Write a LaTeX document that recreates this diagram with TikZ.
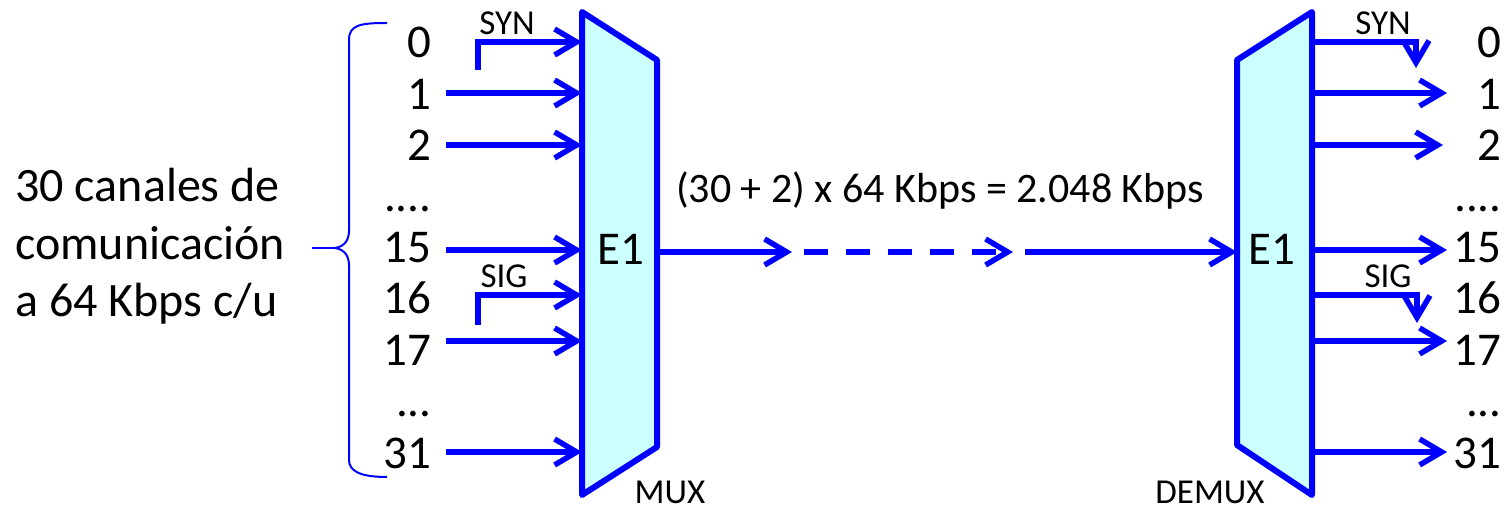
\documentclass[tikz,border=0pt]{standalone}
\usepackage{fontspec}
\setmainfont{Carlito}
\usetikzlibrary{arrows.meta}

\definecolor{muxblue}{RGB}{0,0,255}
\definecolor{muxfill}{RGB}{204,255,255}
\newcommand{\fourdots}{....}
\newcommand{\threedots}{...}

\begin{document}
\begin{tikzpicture}[x=0.5pt, y=-0.5pt,
        chan/.style={draw=muxblue, line width=2.75pt, -{Straight Barb[length=11pt, width=13pt]}},
        blk/.style={draw=muxblue, fill=muxfill, line width=3pt, line join=round},
        brace/.style={draw=muxblue, line width=1pt},
        lbl/.style={inner sep=0pt, font=\fontsize{23.5}{28.75}\selectfont},
        tag/.style={inner sep=0pt, font=\fontsize{17.5}{21}\selectfont}
    ]
        \useasboundingbox (0,0) rectangle (1508,512);

        \draw[blk] (582,12) coordinate (mux-tl) -- (657,60) -- (657,447) -- (582,495) -- cycle;
        \draw[blk] (1312,12) coordinate (dmx-tr) -- (1237,60) -- (1237,445) -- (1312,495) -- cycle;
        \node[lbl, anchor=base] (e1-mux) at (621,265) {E1};
        \node[lbl, anchor=base] (e1-dmx) at (1272,265) {E1};
        \node[tag, anchor=base] (mux-name) at (670,503) {MUX};
        \node[tag, anchor=base] (dmx-name) at (1210,503) {DEMUX};

        \foreach \n/\t/\y in {a/0/58, b/1/110, c/2/161, d/\fourdots/212, e/15/263, f/16/314, g/17/366, h/\threedots/417, i/31/468} {
            \node[lbl, anchor=base east] (in-\n) at (432,\y) {\t};
            \node[lbl, anchor=base east] (out-\n) at (1502,\y) {\t};
        }

        \foreach \n/\y/\x in {b/93/1447, c/145/1443, e/250/1447, g/341/1447, i/452/1447} {
            \coordinate (src-\n) at (446,\y);
            \coordinate (dst-\n) at (\x,\y);
            \draw[chan] (src-\n) -- (src-\n -| mux-tl);
            \draw[chan] (dst-\n -| dmx-tr) -- (dst-\n);
        }

        \coordinate (syn-in) at (478,70);
        \coordinate (syn-mx) at (582,42);
        \coordinate (sig-in) at (478,325);
        \coordinate (sig-mx) at (582,295);
        \draw[chan] (syn-in) |- (syn-mx);
        \draw[chan] (sig-in) |- (sig-mx);
        \node[tag, anchor=base] (syn-l) at (507,35) {SYN};
        \node[tag, anchor=base] (sig-l) at (504,288) {SIG};

        \coordinate (syn-dm) at (1312,42);
        \coordinate (syn-out) at (1416,68);
        \coordinate (sig-dm) at (1312,295);
        \coordinate (sig-out) at (1417,323);
        \draw[chan] (syn-dm) -| (syn-out);
        \draw[chan] (sig-dm) -| (sig-out);
        \node[tag, anchor=base] (syn-r) at (1383,35) {SYN};
        \node[tag, anchor=base] (sig-r) at (1388,288) {SIG};

        \coordinate (mux-out) at (657,252);
        \coordinate (hop-a) at (792,252);
        \coordinate (hop-b) at (804,252);
        \coordinate (hop-c) at (1013,252);
        \coordinate (hop-d) at (1025,252);
        \coordinate (dmx-in) at (1237,252);
        \draw[chan] (mux-out) -- (hop-a);
        \draw[chan, dash pattern=on 12pt off 9pt] (hop-b) -- (hop-c);
        \draw[chan] (hop-d) -- (dmx-in);
        \node[lbl, anchor=base, font=\fontsize{21}{25}\selectfont] (rate) at (940,203) {(30 + 2) x 64 Kbps = 2.048 Kbps};

        \node[lbl, anchor=base west, align=left, font=\fontsize{24}{28.75}\selectfont] (desc) at (15,317) {30 canales de\\comunicación\\a 64 Kbps c/u};
        \coordinate (brace-tip) at (333,248);
        \coordinate (desc-end) at (312,248);
        \draw[brace] (387,23) .. controls (360,23) and (349,25) .. (349,40) -- (349,231)
            .. controls (349,243) and (341,248) .. (brace-tip)
            .. controls (341,248) and (349,253) .. (349,265) -- (349,460)
            .. controls (349,471) and (360,477) .. (387,477);
        \draw[brace] (desc-end) -- (brace-tip);
    \end{tikzpicture}
\end{document}
